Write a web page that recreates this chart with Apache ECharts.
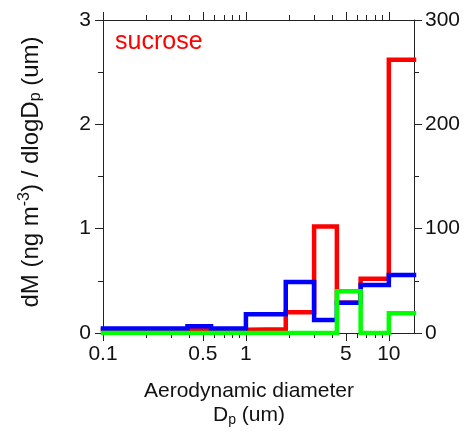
<!DOCTYPE html>
<html><head><meta charset="utf-8">
<script src="https://cdn.jsdelivr.net/npm/echarts@6/dist/echarts.min.js"></script>
<style>html,body{margin:0;padding:0;background:#fff}#c{width:471px;height:432px}</style>
</head><body><div id="c"></div>
<script>
// Bin edges (um) and dM/dlogDp per bin
const binEdges = [0.1, 0.39, 0.57, 1.0, 1.9, 3.0, 4.33, 6.35, 10, 15];
const redValues = [0.03, 0.035, 0.03, 0.036, 0.20, 1.02, 0.29, 0.52, 2.62];
const blueValues = [0.044, 0.065, 0.044, 0.18, 0.49, 0.125, 0.29, 0.46, 0.555];
const greenValues = [0, 0, 0, 0, 0, 0, 0.40, 0, 0.19];
const xMajorTicks = [0.1, 0.5, 1, 5, 10];
const xMinorTicks = [0.2, 0.3, 0.4, 0.6, 0.7, 0.8, 0.9, 2, 3, 4, 6, 7, 8, 9];
const xLabels = [0.1, 0.5, 1, 5, 10];

function stepData(vals) {
  const d = vals.map((v, i) => [binEdges[i], v]);
  d.push([binEdges[binEdges.length - 1], vals[vals.length - 1]]);
  return d;
}
const FONT = '"Liberation Sans", Arial, sans-serif';
const axisCol = '#222';
function xAx(pos, ticks, len, showLine, labels) {
  return {
    type: 'log', logBase: 10, min: 0.1, max: 15, position: pos, gridIndex: 0,
    axisLine: { show: showLine, lineStyle: { color: axisCol, width: 1 } },
    axisTick: { show: true, inside: false, length: len, customValues: ticks, lineStyle: { color: axisCol, width: 1 } },
    axisLabel: labels ? { show: true, customValues: labels, fontSize: 21, fontFamily: FONT, color: '#111', margin: 11,
      formatter: v => { const r = Math.round(v * 10) / 10; return String(r); } } : { show: false },
    splitLine: { show: false }, minorTick: { show: false }, minorSplitLine: { show: false }
  };
}
const chart = echarts.init(document.getElementById('c'), null, { renderer: 'canvas' });
const xa0 = xAx('bottom', xMajorTicks, 8, true, xLabels);
xa0.name = '{t|Aerodynamic diameter}\n{t|D}{sub|p}{t| (um)}';
xa0.nameLocation = 'middle';
xa0.nameGap = 46;
xa0.nameTextStyle = { padding: [0, 19, 0, 0], rich: {
  t: { fontSize: 21, fontFamily: FONT, color: '#111', lineHeight: 24 },
  sub: { fontSize: 14, fontFamily: FONT, color: '#111', padding: [10, 0, 0, 0], lineHeight: 24 } } };
chart.setOption({
  animation: false,
  grid: { left: 103, right: 57, top: 20, bottom: 99, containLabel: false, outerBoundsMode: 'none' },
  xAxis: [
    xa0,
    xAx('bottom', xMinorTicks, 5, false, null),
    xAx('top', xMajorTicks, 8, true, null),
    xAx('top', xMinorTicks, 5, false, null)
  ],
  yAxis: [
    { type: 'value', min: 0, max: 3, interval: 1, position: 'left',
      axisLine: { show: true, lineStyle: { color: axisCol } },
      axisTick: { show: true, inside: false, length: 8, lineStyle: { color: axisCol } },
      minorTick: { show: true, splitNumber: 2, length: 5, lineStyle: { color: axisCol } },
      axisLabel: { fontSize: 21, fontFamily: FONT, color: '#111', margin: 12 },
      splitLine: { show: false },
      name: '{t|dM (ng m}{sup|-3}{t|) / dlogD}{sub|p}{t| (um)}',
      nameLocation: 'middle', nameRotate: 90, nameGap: 59,
      nameTextStyle: { padding: [0, 0, 0, 9], rich: {
        t: { fontSize: 24, fontFamily: FONT, color: '#111', lineHeight: 26 },
        sup: { fontSize: 16, fontFamily: FONT, color: '#111', padding: [0, 0, 12, 0], lineHeight: 26 },
        sub: { fontSize: 16, fontFamily: FONT, color: '#111', padding: [10, 0, 0, 0], lineHeight: 26 } } }
    },
    { type: 'value', min: 0, max: 300, interval: 100, position: 'right',
      axisLine: { show: true, lineStyle: { color: axisCol } },
      axisTick: { show: true, inside: false, length: 8, lineStyle: { color: axisCol } },
      minorTick: { show: true, splitNumber: 2, length: 5, lineStyle: { color: axisCol } },
      axisLabel: { fontSize: 21, fontFamily: FONT, color: '#111', margin: 11 },
      splitLine: { show: false }
    }
  ],
  graphic: [{ type: 'text', left: 115, top: 30, style: { text: 'sucrose', fill: '#ff0000', font: '25px ' + FONT } }],
  series: [
    { type: 'line', step: 'end', data: stepData(redValues), xAxisIndex: 0, yAxisIndex: 0, symbol: 'none',
      lineStyle: { color: '#ff0000', width: 4.5, cap: 'square', join: 'miter' }, z: 2 },
    { type: 'line', step: 'end', data: stepData(blueValues), xAxisIndex: 0, yAxisIndex: 0, symbol: 'none',
      lineStyle: { color: '#0000ff', width: 4.5, cap: 'square', join: 'miter' }, z: 3 },
    { type: 'line', step: 'end', data: stepData(greenValues), xAxisIndex: 0, yAxisIndex: 0, symbol: 'none',
      lineStyle: { color: '#00ff00', width: 4.5, cap: 'square', join: 'miter' }, z: 4 }
  ]
});
</script></body></html>
